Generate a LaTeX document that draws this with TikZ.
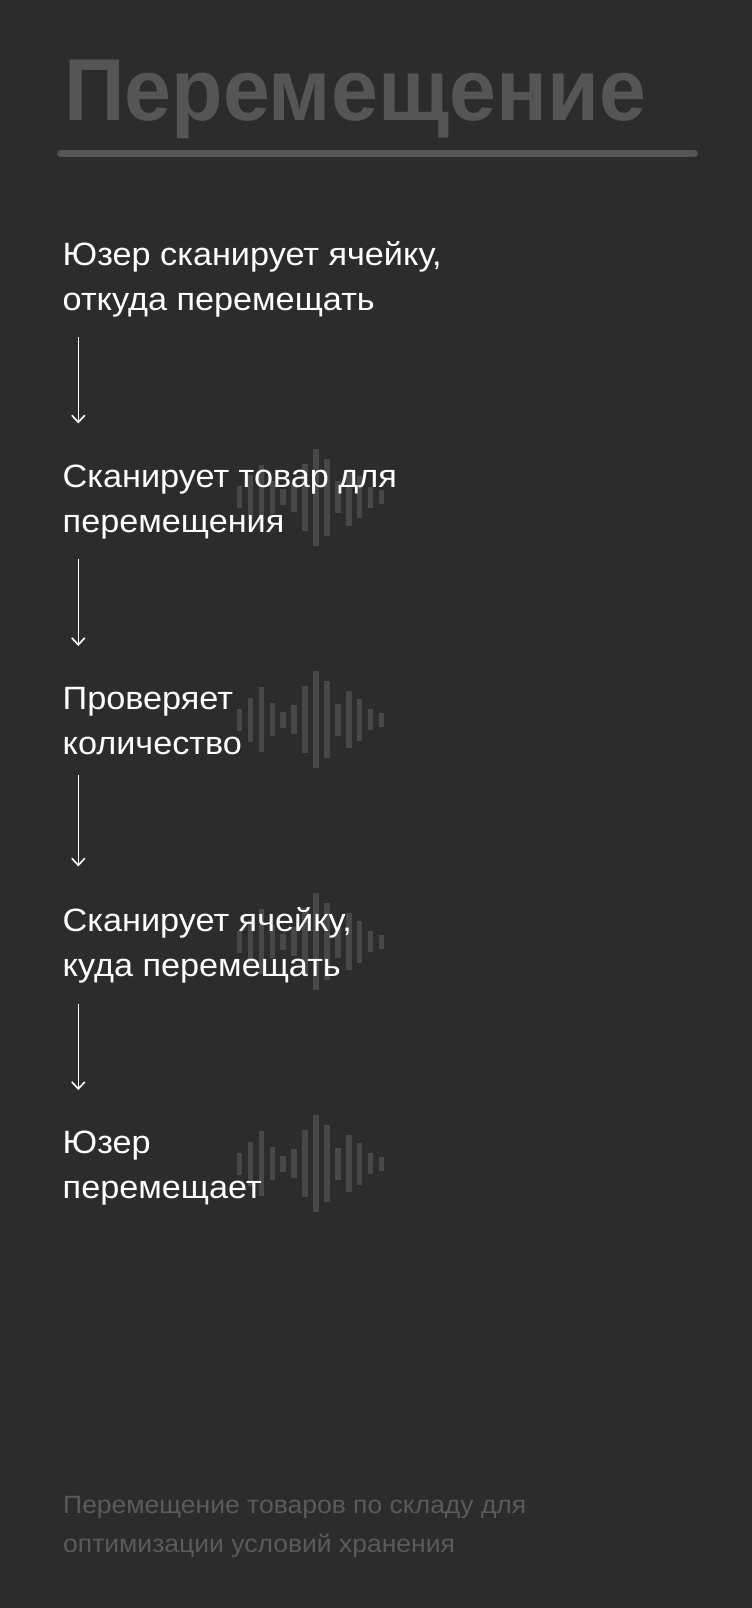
\documentclass[tikz,border=0pt]{standalone}
\usepackage{fontspec}
\setmainfont[FakeStretch=1.06]{Liberation Sans}
\newfontfamily\headfont[FakeStretch=0.958]{Liberation Sans}
\usetikzlibrary{positioning, arrows.meta}
\definecolor{bgdark}{HTML}{2C2C2C}
\definecolor{headgrey}{HTML}{555555}
\definecolor{wavegrey}{HTML}{484848}
\definecolor{notegrey}{HTML}{5A5A5A}
\tikzset{
  steptext/.style={anchor=base west, inner sep=0pt, align=left, text=white,
    font=\fontsize{32.3bp}{45bp}\selectfont},
  flowarrow/.style={white, line width=1.6bp, -{Straight Barb[length=7bp,width=13bp]},
    shorten <=20bp, shorten >=41bp},
  wavebar/.style={fill=wavegrey},
}
% one sound wave, centred on height #1
\newcommand{\soundwave}[1]{%
  \foreach \h [count=\i from 0] in {22,44,65,33,16,29,67,97,77,32,57,42,21,14}
    \fill[wavebar] (236.8+10.92*\i, #1-\h/2) rectangle ++(5.5, \h);
}

\begin{document}
\begin{tikzpicture}[x=1bp, y=-1bp]
\fill[bgdark] (0,0) rectangle (752,1608);

\node[anchor=base west, inner sep=0pt, text=headgrey,
  font=\headfont\bfseries\fontsize{88bp}{88bp}\selectfont] (title) at (64,120) {Перемещение};
\draw[headgrey, line width=7.3bp, line cap=round] (60.7,153.7) -- (694.3,153.7);

\soundwave{497.3}
\soundwave{719.5}
\soundwave{941.7}
\soundwave{1163.9}

% base anchor of a two-line node sits on its second line
\coordinate (axis) at (78.3,0);
\node[steptext] (s1) at (62.5,310)    {Юзер сканирует ячейку,\\откуда перемещать};
\node[steptext] (s2) at (62.5,532.2)  {Сканирует товар для\\перемещения};
\node[steptext] (s3) at (62.5,754.4)  {Проверяет\\количество};
\node[steptext] (s4) at (62.5,976.6)  {Сканирует ячейку,\\куда перемещать};
\node[steptext] (s5) at (62.5,1198.8) {Юзер\\перемещает};

\draw[flowarrow] (s1.south -| axis) -- (s2.north -| axis);
\draw[flowarrow] (s2.south -| axis) -- (s3.north -| axis);
\draw[flowarrow] (s3.south -| axis) -- (s4.north -| axis);
\draw[flowarrow] (s4.south -| axis) -- (s5.north -| axis);

\node[anchor=base west, inner sep=0pt, align=left, text=notegrey,
  font=\fontsize{25bp}{39bp}\selectfont] (note) at (63,1552)
  {Перемещение товаров по складу для\\оптимизации условий хранения};
\end{tikzpicture}
\end{document}
